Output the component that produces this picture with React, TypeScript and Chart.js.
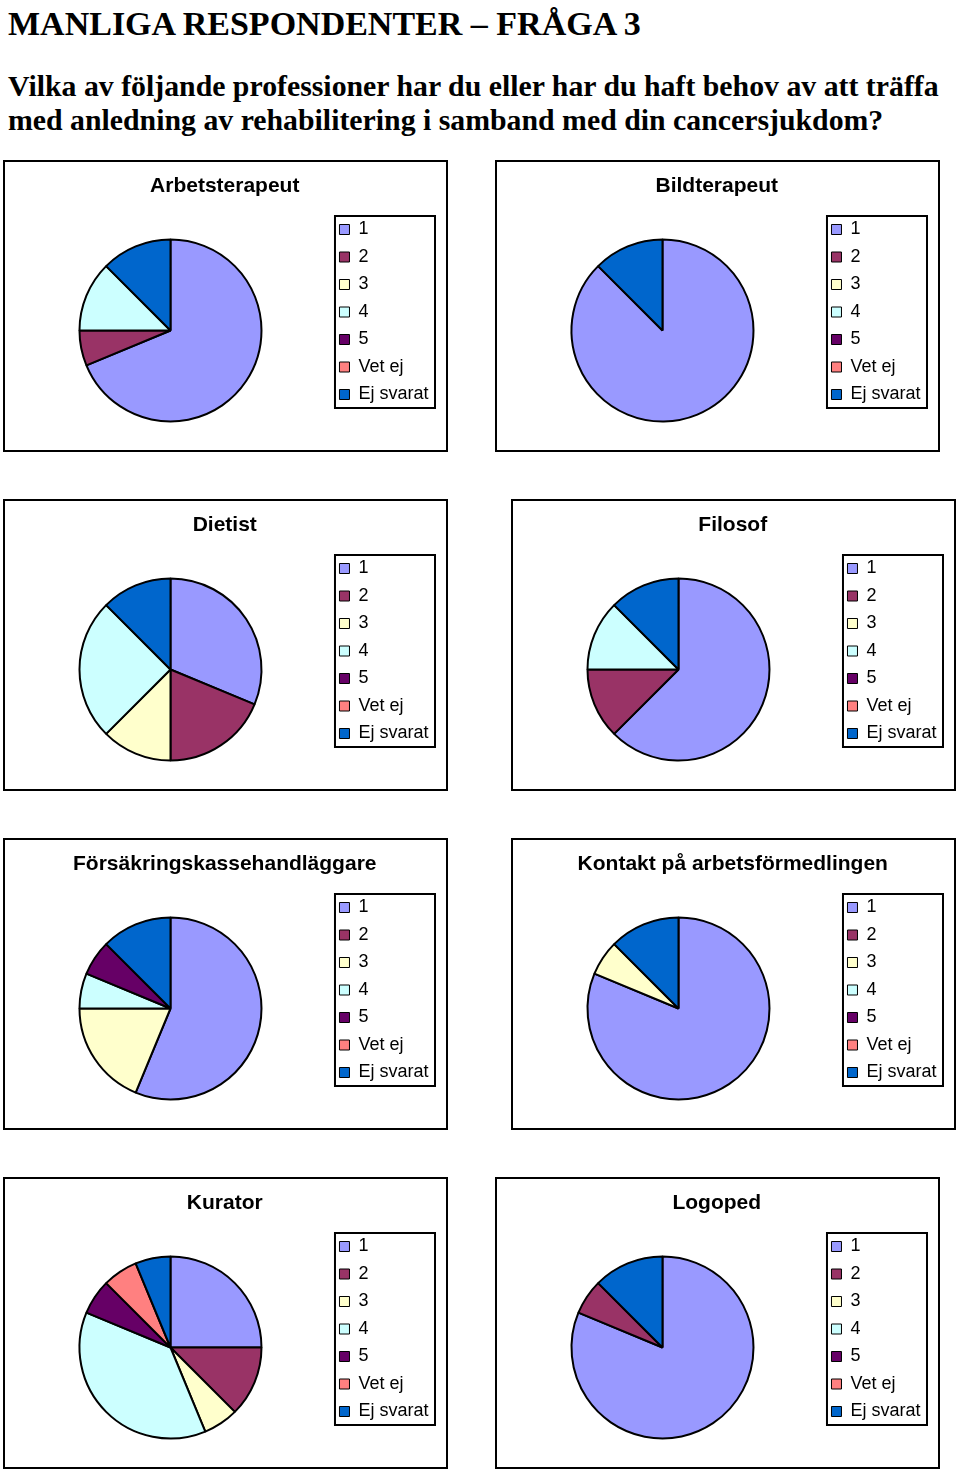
import React, { useEffect, useRef } from "react";
import { Chart, registerables, DoughnutController } from "chart.js";

Chart.register(...registerables);

// ---- data ----
const categories = ["1", "2", "3", "4", "5", "Vet ej", "Ej svarat"];
const sliceColors = ["#9999FF", "#993366", "#FFFFCC", "#CCFFFF", "#660066", "#FF8080", "#0066CC"];

const arbetsterapeut = [11, 1, 0, 2, 0, 0, 2];
const bildterapeut = [14, 0, 0, 0, 0, 0, 2];
const dietist = [5, 3, 2, 4, 0, 0, 2];
const filosof = [10, 2, 0, 2, 0, 0, 2];
const forsakringskassehandlaggare = [9, 0, 3, 1, 1, 0, 2];
const kontaktArbetsformedlingen = [13, 0, 1, 0, 0, 0, 2];
const kurator = [4, 2, 1, 6, 1, 1, 1];
const logoped = [13, 1, 0, 0, 0, 0, 2];

const panelTitles = [
  "Arbetsterapeut",
  "Bildterapeut",
  "Dietist",
  "Filosof",
  "Försäkringskassehandläggare",
  "Kontakt på arbetsförmedlingen",
  "Kurator",
  "Logoped",
];
const panelValues = [
  arbetsterapeut,
  bildterapeut,
  dietist,
  filosof,
  forsakringskassehandlaggare,
  kontaktArbetsformedlingen,
  kurator,
  logoped,
];

const pageTitle = "MANLIGA RESPONDENTER – FRÅGA 3";
const questionLine1 = "Vilka av följande professioner har du eller har du haft behov av att träffa";
const questionLine2 = "med anledning av rehabilitering i samband med din cancersjukdom?";

// panel placement (outer box)
const panelPos = [
  { x: 3, y: 160 },
  { x: 495, y: 160 },
  { x: 3, y: 499 },
  { x: 511, y: 499 },
  { x: 3, y: 838 },
  { x: 511, y: 838 },
  { x: 3, y: 1177 },
  { x: 495, y: 1177 },
];
const PANEL_W = 445;
const PANEL_H = 292;

const SANS = '"Liberation Sans", Arial, Helvetica, sans-serif';
const SERIF = '"Liberation Serif", "Times New Roman", Times, serif';

const legendBorderPlugin = {
  id: "legendBorder",
  afterDraw(chart: any) {
    const lg = chart.legend;
    if (!lg || !lg.legendHitBoxes || !lg.legendHitBoxes.length) return;
    const hbs = lg.legendHitBoxes;
    const left = Math.min(...hbs.map((h: any) => h.left)) - 4.5;
    const right = Math.max(...hbs.map((h: any) => h.left + h.width)) + 6.5;
    const top = hbs[0].top - 4.5;
    const last = hbs[hbs.length - 1];
    const bottom = last.top + last.height + 4.5;
    const ctx = chart.ctx;
    ctx.save();
    ctx.strokeStyle = "#000";
    ctx.lineWidth = 2;
    ctx.strokeRect(left, top, right - left, bottom - top);
    ctx.restore();
  },
};

function PiePanel({ title, values }: { title: string; values: number[] }) {
  const ref = useRef<HTMLCanvasElement | null>(null);
  useEffect(() => {
    if (!ref.current) return;
    const baseGen =
      (DoughnutController as any).overrides?.plugins?.legend?.labels?.generateLabels ||
      (Chart as any).overrides?.pie?.plugins?.legend?.labels?.generateLabels;
    const chart = new Chart(ref.current, {
      type: "pie",
      data: {
        labels: categories,
        datasets: [
          {
            data: values,
            backgroundColor: sliceColors,
            borderColor: "#000",
            borderWidth: 2,
            radius: 91,
          } as any,
        ],
      },
      plugins: [legendBorderPlugin],
      options: {
        animation: false,
        responsive: true,
        maintainAspectRatio: false,
        color: "#000",
        layout: { padding: { left: 6, right: 7.5, top: 0, bottom: 0 } },
        plugins: {
          title: {
            display: true,
            text: title,
            color: "#000",
            font: { family: SANS, size: 21, weight: "bold" },
            padding: { top: 12, bottom: 11.8 },
          },
          legend: {
            display: true,
            position: "right",
            align: "start",
            fullSize: false,
            labels: {
              color: "#000",
              font: { family: SANS, size: 18 },
              boxWidth: 10,
              boxHeight: 10,
              padding: 9.5,
              generateLabels: (c: any) => {
                const items = baseGen ? baseGen(c) : [];
                return items.map((it: any) => ({ ...it, lineWidth: 1, strokeStyle: "#000", hidden: false }));
              },
            },
          },
          tooltip: { enabled: false },
        },
      },
    } as any);
    return () => chart.destroy();
  }, [title, values]);

  return (
    <div style={{ width: PANEL_W - 4, height: PANEL_H - 4, position: "relative" }}>
      <canvas ref={ref} />
    </div>
  );
}

export default function App() {
  return (
    <div
      style={{
        position: "absolute",
        left: 0,
        top: 0,
        width: 960,
        height: 1469,
        background: "#fff",
        overflow: "hidden",
      }}
    >
      <div
        style={{
          position: "absolute",
          left: 8,
          top: 3.5,
          fontFamily: SERIF,
          fontWeight: "bold",
          fontSize: 34,
          lineHeight: "40px",
          whiteSpace: "nowrap",
          color: "#000",
        }}
      >
        {pageTitle}
      </div>
      <div
        style={{
          position: "absolute",
          left: 8,
          top: 69,
          fontFamily: SERIF,
          fontWeight: "bold",
          fontSize: 29.8,
          lineHeight: "34px",
          whiteSpace: "nowrap",
          color: "#000",
        }}
      >
        {questionLine1}
        <br />
        {questionLine2}
      </div>
      {panelTitles.map((t, i) => (
        <div
          key={t}
          style={{
            position: "absolute",
            left: panelPos[i].x,
            top: panelPos[i].y,
            width: PANEL_W,
            height: PANEL_H,
            boxSizing: "border-box",
            border: "2px solid #000",
            background: "#fff",
          }}
        >
          <PiePanel title={t} values={panelValues[i]} />
        </div>
      ))}
    </div>
  );
}
